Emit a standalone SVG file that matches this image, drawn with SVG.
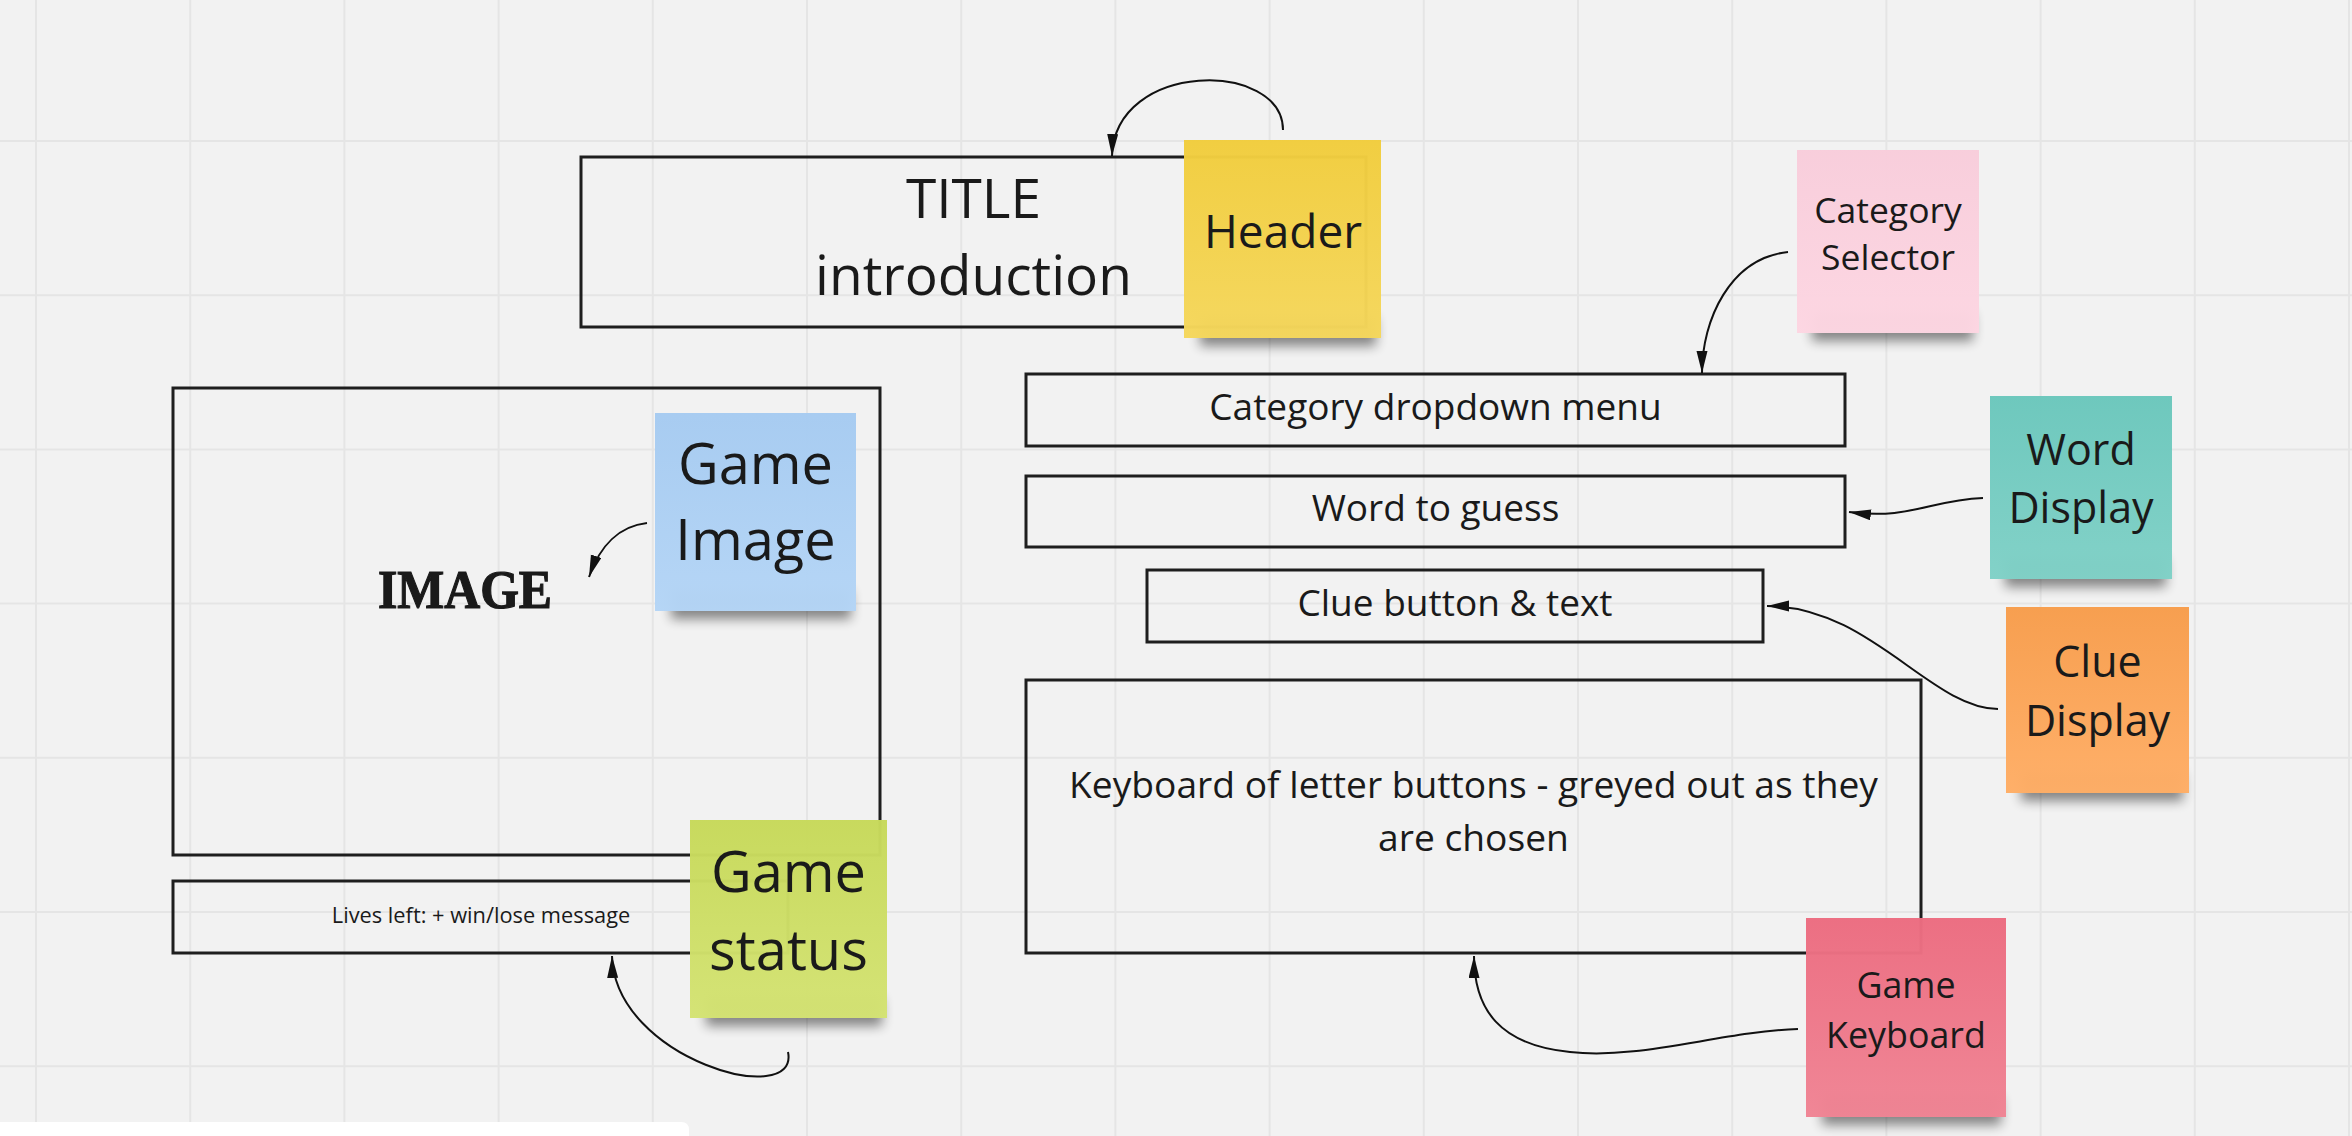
<svg xmlns="http://www.w3.org/2000/svg" width="2352" height="1136" viewBox="0 0 2352 1136">
<style>
.grid{stroke:#e5e5e5;stroke-width:2;fill:none}
.box{fill:none;stroke:#1e1e1e;stroke-width:3}
.t{font-family:"Open Sans","Noto Sans","Liberation Sans",sans-serif;fill:#1a1a1a;text-anchor:middle}
.link{fill:none;stroke:#111;stroke-width:2}
.note{fill-opacity:0.975}
.shadow{fill:#000;opacity:0.45;filter:url(#blur)}
</style>
<defs>
<filter id="blur" x="-20%" y="-50%" width="140%" height="200%"><feGaussianBlur stdDeviation="6"/></filter>
<marker id="arr" markerUnits="userSpaceOnUse" markerWidth="24" markerHeight="12" refX="22" refY="5.5" orient="auto"><path d="M0,0 L22,5.5 L0,11 z" fill="#111"/></marker>
<linearGradient id="gY" x1="0" y1="0" x2="0" y2="1"><stop offset="0" stop-color="#f1cd3d"/><stop offset="1" stop-color="#f5d75c"/></linearGradient>
<linearGradient id="gB" x1="0" y1="0" x2="0" y2="1"><stop offset="0" stop-color="#a6cbf1"/><stop offset="1" stop-color="#b4d5f6"/></linearGradient>
<linearGradient id="gG" x1="0" y1="0" x2="0" y2="1"><stop offset="0" stop-color="#c7d95a"/><stop offset="1" stop-color="#d4e373"/></linearGradient>
<linearGradient id="gP" x1="0" y1="0" x2="0" y2="1"><stop offset="0" stop-color="#f8cddb"/><stop offset="1" stop-color="#fdd6e2"/></linearGradient>
<linearGradient id="gT" x1="0" y1="0" x2="0" y2="1"><stop offset="0" stop-color="#6bc7bc"/><stop offset="1" stop-color="#80d1c7"/></linearGradient>
<linearGradient id="gO" x1="0" y1="0" x2="0" y2="1"><stop offset="0" stop-color="#f79d4c"/><stop offset="1" stop-color="#ffae66"/></linearGradient>
<linearGradient id="gR" x1="0" y1="0" x2="0" y2="1"><stop offset="0" stop-color="#ec6c80"/><stop offset="1" stop-color="#f08494"/></linearGradient>
</defs>

<rect x="0" y="0" width="2352" height="1136" fill="#f2f2f2"/>
<path class="grid" d="M36,0V1136 M190.2,0V1136 M344.4,0V1136 M498.6,0V1136 M652.8,0V1136 M807,0V1136 M961.2,0V1136 M1115.4,0V1136 M1269.6,0V1136 M1423.8,0V1136 M1578,0V1136 M1732.2,0V1136 M1886.4,0V1136 M2040.6,0V1136 M2194.8,0V1136 M2349,0V1136 M0,141H2352 M0,295.2H2352 M0,449.4H2352 M0,603.6H2352 M0,757.8H2352 M0,912H2352 M0,1066.2H2352"/>
<path d="M0,1122 H681 Q689,1122 689,1130 V1136 H0 Z" fill="#ffffff"/>

<g id="title-box">
<rect class="box" x="581" y="157" width="785" height="170"/>
<text class="t" x="973.5" y="218" font-size="55">TITLE</text>
<text class="t" x="973.5" y="295" font-size="55">introduction</text>
</g>

<g id="image-box">
<rect class="box" x="173" y="388" width="707" height="467"/>
<text x="465" y="608" font-family="'Liberation Serif','DejaVu Serif',serif" font-weight="900" font-size="54" fill="#1a1a1a" stroke="#1a1a1a" stroke-width="1.2" text-anchor="middle" textLength="174" lengthAdjust="spacingAndGlyphs">IMAGE</text>
</g>

<g id="status-box">
<rect class="box" x="173" y="881" width="615" height="72"/>
<text class="t" x="481" y="923" font-size="21.8">Lives left: + win/lose message</text>
</g>

<g id="dropdown-box">
<rect class="box" x="1026" y="374" width="819" height="72"/>
<text class="t" x="1435.5" y="420" font-size="37">Category dropdown menu</text>
</g>

<g id="word-box">
<rect class="box" x="1026" y="476" width="819" height="71"/>
<text class="t" x="1435.5" y="521" font-size="37">Word to guess</text>
</g>

<g id="clue-box">
<rect class="box" x="1147" y="570" width="616" height="72"/>
<text class="t" x="1455" y="616" font-size="37">Clue button &amp; text</text>
</g>

<g id="keyboard-box">
<rect class="box" x="1026" y="680" width="895" height="273"/>
<text class="t" x="1473.5" y="798" font-size="37.2">Keyboard of letter buttons - greyed out as they</text>
<text class="t" x="1473.5" y="851" font-size="37.2">are chosen</text>
</g>

<g id="note-header">
<rect class="shadow" x="1200" y="318" width="176" height="28"/>
<rect class="note" x="1184" y="140" width="197" height="198" fill="url(#gY)"/>
<text class="t" x="1283" y="248" font-size="46">Header</text>
</g>

<g id="note-game-image">
<rect class="shadow" x="671" y="591" width="180" height="28"/>
<rect class="note" x="655" y="413" width="201" height="198" fill="url(#gB)"/>
<text class="t" x="755.5" y="484" font-size="56">Game</text>
<text class="t" x="755.5" y="560" font-size="56">Image</text>
</g>

<g id="note-game-status">
<rect class="shadow" x="706" y="998" width="176" height="28"/>
<rect class="note" x="690" y="820" width="197" height="198" fill="url(#gG)"/>
<text class="t" x="788.5" y="892" font-size="56">Game</text>
<text class="t" x="788.5" y="970" font-size="56">status</text>
</g>

<g id="note-category-selector">
<rect class="shadow" x="1812" y="313" width="161" height="28"/>
<rect class="note" x="1797" y="150" width="182" height="183" fill="url(#gP)"/>
<text class="t" x="1888" y="223" font-size="35.5">Category</text>
<text class="t" x="1888" y="270" font-size="35.5">Selector</text>
</g>

<g id="note-word-display">
<rect class="shadow" x="2005" y="559" width="161" height="28"/>
<rect class="note" x="1990" y="396" width="182" height="183" fill="url(#gT)"/>
<text class="t" x="2081" y="465" font-size="43">Word</text>
<text class="t" x="2081" y="523" font-size="43">Display</text>
</g>

<g id="note-clue-display">
<rect class="shadow" x="2021" y="773" width="162" height="28"/>
<rect class="note" x="2006" y="607" width="183" height="186" fill="url(#gO)"/>
<text class="t" x="2097.5" y="677" font-size="43">Clue</text>
<text class="t" x="2097.5" y="736" font-size="43">Display</text>
</g>

<g id="note-game-keyboard">
<rect class="shadow" x="1822" y="1097" width="179" height="28"/>
<rect class="note" x="1806" y="918" width="200" height="199" fill="url(#gR)"/>
<text class="t" x="1906" y="998" font-size="35.8">Game</text>
<text class="t" x="1906" y="1048" font-size="35.8">Keyboard</text>
</g>

<g id="connectors">
<path class="link" marker-end="url(#arr)" d="M1283,130 C1283,60 1115,60 1112,156"/>
<path class="link" marker-end="url(#arr)" d="M647,523 C620,526 600,545 589,577"/>
<path class="link" marker-end="url(#arr)" d="M788,1052 C800,1110 615,1060 612,956"/>
<path class="link" marker-end="url(#arr)" d="M1788,252 C1730,258 1702,320 1702,373"/>
<path class="link" marker-end="url(#arr)" d="M1983,498 C1930,500 1910,520 1849,512"/>
<path class="link" marker-end="url(#arr)" d="M1998,709 C1930,708 1870,606 1767,606"/>
<path class="link" marker-end="url(#arr)" d="M1798,1029 C1720,1032 1640,1060 1570,1052 C1500,1045 1474,1010 1474,956"/>
</g>
</svg>
